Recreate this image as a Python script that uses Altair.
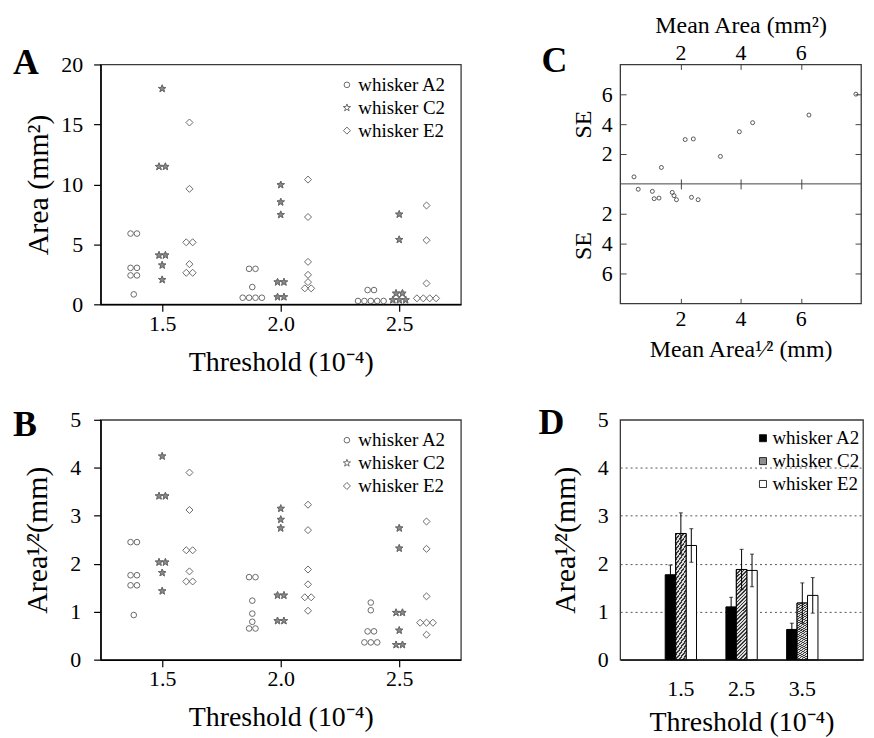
import altair as alt
import pandas as pd

FONT = "Liberation Serif"
WHISKERS = ["whisker A2", "whisker C2", "whisker E2"]
AB_THRESHOLDS = [1.5, 2.0, 2.5]
AB_TICKS_A = [0, 5, 10, 15, 20]
AB_TICKS_B = [0, 1, 2, 3, 4, 5]

# Panel A - Area (mm^2); one list per threshold (1.5, 2.0, 2.5); repeated values sit side by side
area_A2 = [[5.9, 5.9, 3.04, 3.04, 2.41, 2.41, 0.83],
           [2.96, 2.96, 1.44, 0.55, 0.55, 0.55, 0.55],
           [1.19, 1.19, 0.28, 0.28, 0.28, 0.28, 0.28]]
area_C2 = [[17.98, 11.48, 11.48, 4.09, 4.09, 3.26, 2.05],
           [9.96, 8.52, 7.47, 1.85, 1.85, 0.61, 0.61],
           [7.5, 5.39, 0.91, 0.91, 0.36, 0.36, 0.36]]
area_E2 = [[15.16, 9.63, 5.17, 5.17, 3.35, 2.63, 2.63],
           [10.4, 7.28, 3.54, 2.46, 1.85, 1.33, 1.33],
           [8.24, 5.34, 1.74, 0.5, 0.5, 0.5, 0.5]]

# Panel B - Area^1/2 (mm)
sqrt_A2 = [[2.45, 2.45, 1.76, 1.76, 1.55, 1.55, 0.93],
           [1.72, 1.72, 1.23, 0.96, 0.79, 0.65, 0.65],
           [1.19, 1.03, 0.59, 0.59, 0.36, 0.36, 0.36]]
sqrt_C2 = [[4.24, 3.41, 3.41, 2.03, 2.03, 1.81, 1.43],
           [3.15, 2.92, 2.74, 1.34, 1.34, 0.81, 0.81],
           [2.74, 2.32, 0.98, 0.98, 0.61, 0.31, 0.31]]
sqrt_E2 = [[3.9, 3.12, 2.28, 2.28, 1.84, 1.63, 1.63],
           [3.23, 2.70, 1.88, 1.57, 1.30, 1.30, 1.02],
           [2.88, 2.31, 1.32, 0.77, 0.77, 0.77, 0.52]]

# Panel C - SE against mean
c_area_mean = [0.46, 1.37, 2.16, 2.43, 3.33, 3.96, 4.40, 6.27, 7.83]
c_area_se = [0.47, 1.10, 2.97, 3.01, 1.84, 3.49, 4.10, 4.61, 6.01]
c_sqrt_mean = [0.60, 1.07, 1.13, 1.29, 1.73, 1.79, 1.87, 2.37, 2.59]
c_sqrt_se = [0.36, 0.50, 0.99, 0.95, 0.57, 0.79, 1.06, 0.90, 1.06]
C_TICKS = [2, 4, 6]

# Panel D - mean Area^1/2 with SE
D_THRESHOLDS = ["1.5", "2.5", "3.5"]
d_mean_A2 = [1.77, 1.10, 0.63]
d_se_A2 = [0.20, 0.20, 0.13]
d_mean_C2 = [2.63, 1.88, 1.18]
d_se_C2 = [0.43, 0.42, 0.42]
d_mean_E2 = [2.38, 1.86, 1.34]
d_se_E2 = [0.35, 0.34, 0.37]

STAR = ("M0,-1.35L0.317,-0.437L1.284,-0.417L0.513,0.167L0.794,1.092L0,0.54"
        "L-0.794,1.092L-0.513,0.167L-1.284,-0.417L-0.317,-0.437Z")
DIAMOND = "M0,-1.25L1.25,0L0,1.25L-1.25,0Z"
GROUP_SHIFT = {"whisker A2": -0.12, "whisker C2": 0.0, "whisker E2": 0.115}
SIDE_STEP = 0.027
POINT_GRAY = "#6a6a6a"
Y_TITLE_SIZE = 30


def hatch_gradient():
    # diagonal hatching imitated with a hard-edged linear gradient
    stops = []
    period, dark_part, n = 0.0045, 0.45, 32
    for i in range(n):
        a = i * period
        stops += [alt.GradientStop(offset=a, color="#3a3a3a"),
                  alt.GradientStop(offset=a + period * dark_part, color="#3a3a3a"),
                  alt.GradientStop(offset=a + period * dark_part, color="#dcdcdc"),
                  alt.GradientStop(offset=a + period, color="#dcdcdc")]
    return alt.LinearGradient(gradient="linear", stops=stops, x1=0, y1=0, x2=1, y2=8.7)


def scatter_frame(series):
    rows = []
    for whisker, per_threshold in zip(WHISKERS, series):
        for thr, values in zip(AB_THRESHOLDS, per_threshold):
            counts = {}
            for v in values:
                counts[v] = counts.get(v, 0) + 1
            for v, n in counts.items():
                for k in range(n):
                    rows.append({"whisker": whisker,
                                 "x": thr + GROUP_SHIFT[whisker] + (k - (n - 1) / 2) * SIDE_STEP,
                                 "y": v})
    return pd.DataFrame(rows)


def letter_title(letter, dx, dy):
    return alt.TitleParams(text=letter, anchor="start", frame="group", orient="top",
                           offset=0, dx=dx, dy=dy, fontSize=36, fontWeight="bold",
                           font=FONT, color="black", baseline="alphabetic")


def scatter_panel(df, y_ticks, y_title, label_pad, title_pad, letter, dy):
    legend = alt.Legend(title=None, orient="none", legendX=238, legendY=11, padding=0,
                        labelFont=FONT, labelFontSize=19, labelColor="black", labelOffset=2,
                        rowPadding=3, symbolSize=32, symbolStrokeWidth=1)
    x = alt.X("x:Q", scale=alt.Scale(domain=[1.24, 2.76], nice=False, zero=False),
              axis=alt.Axis(values=AB_THRESHOLDS, format=".1f", title="Threshold (10⁻⁴)",
                            tickSize=7, labelPadding=2, titlePadding=14, grid=False))
    y = alt.Y("y:Q", scale=alt.Scale(domain=[y_ticks[0], y_ticks[-1]], nice=False),
              axis=alt.Axis(values=y_ticks, title=y_title, tickSize=7, labelPadding=label_pad,
                            titlePadding=title_pad, titleFontSize=Y_TITLE_SIZE, grid=False))
    points = alt.Chart(df).mark_point(opacity=1, strokeWidth=1, color=POINT_GRAY, size=32).encode(
        x=x, y=y,
        shape=alt.Shape("whisker:N", scale=alt.Scale(domain=WHISKERS, range=["circle", STAR, DIAMOND]),
                        legend=legend),
    )
    star_fill = alt.Chart(df).transform_filter(alt.datum.whisker == "whisker C2").mark_point(
        shape=STAR, size=32, filled=True, fill="#8a8a8a", stroke=POINT_GRAY, strokeWidth=1,
        opacity=1).encode(x=x, y=y)
    return alt.layer(points, star_fill).properties(
        width=362, height=241, title=letter_title(letter, -88, dy))


A = scatter_panel(scatter_frame([area_A2, area_C2, area_E2]), AB_TICKS_A, "Area (mm²)", 11, 7, "A", 57)
B = scatter_panel(scatter_frame([sqrt_A2, sqrt_C2, sqrt_E2]), AB_TICKS_B, "Area¹⁄²(mm)", 13, 17, "B", 63)

# ---- Panel C
c_x_scale = alt.Scale(domain=[0, 8], nice=False, zero=False)
c_y_scale = alt.Scale(domain=[-8, 8], nice=False)
c_top_df = pd.DataFrame({"m": c_area_mean, "se": c_area_se})
c_bot_df = pd.DataFrame({"m": c_sqrt_mean, "se": c_sqrt_se})
c_neg_ticks = [-t for t in C_TICKS]

c_top = alt.Chart(c_top_df).mark_point(size=16, opacity=1, stroke="#333", strokeWidth=0.8).encode(
    x=alt.X("m:Q", scale=c_x_scale,
            axis=alt.Axis(orient="top", values=C_TICKS, title="Mean Area (mm²)", tickSize=0,
                          labelPadding=0, titlePadding=4, titleFontSize=24, domain=False,
                          grid=True, gridDash=[5, 110, 10, 110, 5], gridColor="#444", gridWidth=1)),
    y=alt.Y("se:Q", scale=c_y_scale,
            axis=alt.Axis(orient="left", values=C_TICKS, title="SE", titleX=-37, titleY=60,
                          titleBaseline="middle", titleFontSize=24, tickSize=0, labelPadding=8,
                          domain=False, grid=True, gridDash=[6, 230, 6], gridColor="#444", gridWidth=1)),
)
c_bot = alt.Chart(c_bot_df).transform_calculate(neg_se="-datum.se").mark_point(
    size=16, opacity=1, stroke="#333", strokeWidth=0.8).encode(
    x=alt.X("m:Q", scale=c_x_scale,
            axis=alt.Axis(orient="bottom", values=C_TICKS, title="Mean Area¹⁄² (mm)", tickSize=0,
                          labelPadding=5, titlePadding=8, titleFontSize=24, domain=False, grid=False)),
    y=alt.Y("neg_se:Q", scale=c_y_scale,
            axis=alt.Axis(orient="left", values=c_neg_ticks, labelExpr="abs(datum.value)", title="SE",
                          titleX=-37, titleY=182, titleBaseline="middle", titleFontSize=24,
                          tickSize=0, labelPadding=8, domain=False, grid=True, gridDash=[6, 230, 6],
                          gridColor="#444", gridWidth=1)),
)
c_mid = alt.Chart(pd.DataFrame({"v": [0]})).mark_rule(color="#444", strokeWidth=1).encode(
    y=alt.Y("v:Q", scale=c_y_scale, axis=None))
C = alt.layer(c_top, c_bot, c_mid).resolve_axis(x="independent", y="independent").properties(
    width=242, height=240, title=letter_title("C", -79, 95))

# ---- Panel D
d_rows = []
for whisker, means, ses in zip(WHISKERS, [d_mean_A2, d_mean_C2, d_mean_E2], [d_se_A2, d_se_C2, d_se_E2]):
    for thr, m, s in zip(D_THRESHOLDS, means, ses):
        d_rows.append({"threshold": thr, "whisker": whisker, "mean": m, "lo": m - s, "hi": m + s})
d_df = pd.DataFrame(d_rows)
D_TITLE = "Area¹⁄²(mm)"
d_x = alt.X("threshold:N", sort=D_THRESHOLDS,
            scale=alt.Scale(paddingInner=0.484, paddingOuter=0.742),
            axis=alt.Axis(title="Threshold (10⁻⁴)", labelAngle=0, tickSize=0, labelPadding=19,
                          titlePadding=9, domainColor="black", domainWidth=1.3))
d_xo = alt.XOffset("whisker:N", scale=alt.Scale(domain=WHISKERS, paddingInner=0, paddingOuter=0))
d_y_scale = alt.Scale(domain=[0, 5], nice=False)
d_bars = alt.Chart(d_df).mark_bar(stroke="black", strokeWidth=1).encode(
    x=d_x, xOffset=d_xo,
    y=alt.Y("mean:Q", scale=d_y_scale,
            axis=alt.Axis(values=[0, 1, 2, 3, 4, 5], title=D_TITLE, grid=True, gridDash=[2, 3],
                          gridColor="#555", gridWidth=1,
                          gridOpacity={"condition": {"test": "datum.value <= 0 || datum.value >= 5",
                                                     "value": 0}, "value": 1},
                          tickSize=0, labelPadding=12, domain=False,
                          titlePadding=17, titleFontSize=Y_TITLE_SIZE)),
    fill=alt.Fill("whisker:N", scale=alt.Scale(domain=WHISKERS, range=["black", "#8f8f8f", "white"]),
                  legend=alt.Legend(title=None, orient="none", legendX=134, legendY=9, padding=0,
                                    labelFont=FONT, labelFontSize=19, labelColor="black",
                                    labelOffset=0, rowPadding=3, symbolType="square", symbolSize=50,
                                    symbolStrokeColor="black", symbolStrokeWidth=0.8)),
)
d_hatch = alt.Chart(d_df).transform_filter(alt.datum.whisker == "whisker C2").mark_bar(
    stroke="black", strokeWidth=1, fill=hatch_gradient()).encode(
    x=d_x, xOffset=d_xo, y=alt.Y("mean:Q", scale=d_y_scale, title=D_TITLE))
d_err = alt.Chart(d_df).mark_rule(color="black", strokeWidth=1).encode(
    x=d_x, xOffset=d_xo, y=alt.Y("lo:Q", scale=d_y_scale, title=D_TITLE), y2="hi:Q")
d_cap_hi = alt.Chart(d_df).mark_tick(color="black", thickness=1, size=4).encode(
    x=d_x, xOffset=d_xo, y=alt.Y("hi:Q", scale=d_y_scale, title=D_TITLE))
d_cap_lo = alt.Chart(d_df).mark_tick(color="black", thickness=1, size=4).encode(
    x=d_x, xOffset=d_xo, y=alt.Y("lo:Q", scale=d_y_scale, title=D_TITLE))
D = alt.layer(d_bars, d_hatch, d_err, d_cap_hi, d_cap_lo).properties(
    width=244, height=241, title=letter_title("D", -82, 61))

chart = alt.concat(A, C, B, D, columns=2, spacing={"row": 116, "column": 160},
                   bounds="flush", align="each").resolve_scale(
    fill="independent", shape="independent"
).resolve_legend(fill="independent", shape="independent").properties(
    padding={"left": 4, "top": 3, "right": 2, "bottom": 0}
).configure(font=FONT).configure_view(stroke="#3a3a3a", strokeWidth=1.3).configure_axis(
    labelFont=FONT, titleFont=FONT, labelFontSize=22, titleFontSize=28, labelColor="black",
    titleColor="black", titleFontWeight="normal", domainColor="black", domainWidth=1.5,
    tickColor="black", tickWidth=1.2)

chart.save("out.html", embed_options={"renderer": "svg", "actions": False})
